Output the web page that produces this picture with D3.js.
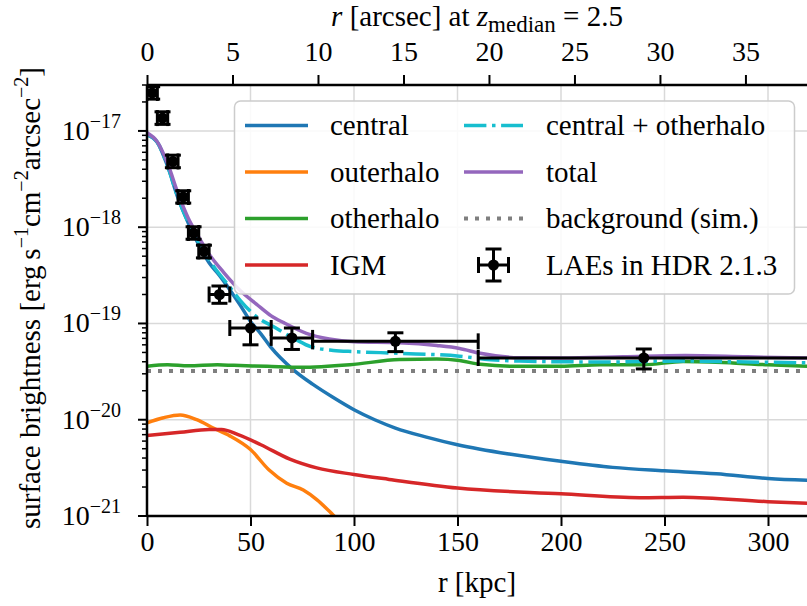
<!DOCTYPE html>
<html>
<head>
<meta charset="utf-8">
<script src="https://cdn.jsdelivr.net/npm/d3@7"></script>
<style>
  body { margin: 0; background: #fff; }
  svg text { font-family: "Liberation Serif", "Times New Roman", serif; fill: #000; }
</style>
</head>
<body>
<svg id="chart" width="807" height="606"></svg>
<script>
// radial surface brightness profiles, r in kpc, SB in erg/s/cm^2/arcsec^2
const centralR  = [0, 5, 10, 15, 20, 25, 30, 35, 40, 45, 50, 55, 60, 70, 80, 90, 100, 110, 120, 135, 150, 175, 200, 225, 250, 275, 300, 320];
const centralSB = [9.12e-18, 7.6e-18, 4.27e-18, 2.0e-18, 1.10e-18, 6.6e-19, 4.27e-19, 3.16e-19, 2.24e-19, 1.55e-19, 1.05e-19, 7.8e-20, 5.6e-20, 3.4e-20, 2.34e-20, 1.7e-20, 1.27e-20, 1.0e-20, 8.2e-21, 6.6e-21, 5.5e-21, 4.4e-21, 3.7e-21, 3.2e-21, 2.95e-21, 2.75e-21, 2.45e-21, 2.34e-21];

const outerR  = [0, 8, 16, 24, 32, 40, 50, 59, 67.5, 75.5, 82, 90, 96];
const outerSB = [9.3e-21, 1.05e-20, 1.12e-20, 1.0e-20, 8.2e-21, 6.8e-21, 4.9e-21, 3.0e-21, 2.19e-21, 1.86e-21, 1.48e-21, 1.02e-21, 7.6e-22];

const otherR  = [0, 10, 20, 34, 42, 58, 74, 98, 122, 140, 151, 161, 180, 200, 219, 240, 259, 283, 300, 320];
const otherSB = [3.59e-20, 3.72e-20, 3.63e-20, 3.72e-20, 3.67e-20, 3.59e-20, 3.5e-20, 3.72e-20, 4.22e-20, 4.27e-20, 4.12e-20, 3.76e-20, 3.59e-20, 3.59e-20, 3.72e-20, 3.72e-20, 4.03e-20, 3.89e-20, 3.72e-20, 3.59e-20];

const igmR  = [0, 16, 30, 36, 44, 55, 69, 82, 100, 117, 150, 200, 238, 259, 300, 320];
const igmSB = [6.84e-21, 7.4e-21, 7.9e-21, 7.9e-21, 7.0e-21, 5.5e-21, 3.9e-21, 3.16e-21, 2.7e-21, 2.4e-21, 1.95e-21, 1.7e-21, 1.55e-21, 1.57e-21, 1.41e-21, 1.35e-21];

const centOtherR  = [0, 5, 10, 15, 20, 27, 33, 38.5, 45, 53, 61, 72, 79, 90, 100, 122, 151, 166, 180, 220, 260, 290, 320];
const centOtherSB = [9.15e-18, 7.62e-18, 4.3e-18, 2.02e-18, 1.12e-18, 5.9e-19, 3.7e-19, 2.63e-19, 1.74e-19, 1.17e-19, 9.3e-20, 6.8e-20, 5.75e-20, 5.25e-20, 5.1e-20, 4.9e-20, 4.57e-20, 4.2e-20, 4.07e-20, 3.98e-20, 4.07e-20, 3.98e-20, 3.9e-20];

const totalR  = [0, 5, 10, 15, 20, 25, 30, 37, 45, 53, 60, 66, 77, 88, 100, 122, 140, 151, 161, 180, 200, 230, 260, 290, 320];
const totalSB = [9.55e-18, 7.7e-18, 4.57e-18, 2.24e-18, 1.23e-18, 7.9e-19, 5.25e-19, 3.4e-19, 2.2e-19, 1.58e-19, 1.2e-19, 1.02e-19, 7.9e-20, 6.9e-20, 6.45e-20, 6.3e-20, 5.9e-20, 5.5e-20, 4.9e-20, 4.4e-20, 4.37e-20, 4.5e-20, 4.65e-20, 4.5e-20, 4.37e-20];

const bgR  = [0, 320];
const bgSB = [3.2e-20, 3.2e-20];

// stacked LAE measurements (HDR 2.1.3)
const laeR    = [2.5, 7.5, 12.5, 17.5, 22.5, 27.5, 35, 50, 70, 120, 240];
const laeRlo  = [0, 5, 10, 15, 20, 25, 30, 40, 60, 80, 160];
const laeRhi  = [5, 10, 15, 20, 25, 30, 40, 60, 80, 160, 320];
const laeSB   = [2.48e-17, 1.36e-17, 4.82e-18, 2.06e-18, 8.7e-19, 5.6e-19, 2.0e-19, 8.97e-20, 7.08e-20, 6.52e-20, 4.38e-20];
const laeSBlo = [2.14e-17, 1.17e-17, 4.15e-18, 1.78e-18, 7.5e-19, 4.8e-19, 1.62e-19, 6.0e-20, 5.37e-20, 5.1e-20, 3.37e-20];
const laeSBhi = [2.88e-17, 1.58e-17, 5.6e-18, 2.39e-18, 1.01e-18, 6.5e-19, 2.45e-19, 1.14e-19, 8.97e-20, 8.0e-20, 5.43e-20];

const xTicks = [0, 50, 100, 150, 200, 250, 300];
const arcTicks = [0, 5, 10, 15, 20, 25, 30, 35];
const yExps = [-21, -20, -19, -18, -17];
const kpcPerArcsec = 8.26; // at z_median = 2.5

const legendLabels = ['central', 'outerhalo', 'otherhalo', 'IGM', 'central + otherhalo', 'total', 'background (sim.)', 'LAEs in HDR 2.1.3'];

const svg = d3.select('#chart');
const pLeft = 147, pTop = 85, pBottom = 516, pRight = 807;
const xMax = 320;
const serif = '"Liberation Serif", "Times New Roman", serif';

const x = d3.scaleLinear().domain([0, xMax]).range([pLeft, pLeft + xMax * 2.07]);
const xArc = d3.scaleLinear().domain([0, xMax / kpcPerArcsec]).range(x.range());
const y = d3.scaleLog().domain([1e-21, 3e-17]).range([pBottom, pTop]);

svg.append('defs').append('clipPath').attr('id', 'clip')
  .append('rect').attr('x', pLeft).attr('y', pTop).attr('width', pRight - pLeft + 5).attr('height', pBottom - pTop);

// grid
const grid = svg.append('g').attr('stroke', '#d9d9d9').attr('stroke-width', 1.5);
xTicks.forEach(t => grid.append('line').attr('x1', x(t)).attr('x2', x(t)).attr('y1', pTop).attr('y2', pBottom));
yExps.forEach(e => grid.append('line').attr('x1', pLeft).attr('x2', pRight).attr('y1', y(Math.pow(10, e))).attr('y2', y(Math.pow(10, e))));

const line = d3.line().x(d => x(d[0])).y(d => y(d[1])).curve(d3.curveMonotoneX);
const series = [
  { r: centralR, v: centralSB, color: '#1f77b4' },
  { r: outerR, v: outerSB, color: '#ff7f0e' },
  { r: otherR, v: otherSB, color: '#2ca02c' },
  { r: igmR, v: igmSB, color: '#d62728' },
  { r: centOtherR, v: centOtherSB, color: '#17becf', dash: '22.4,5.6,3.5,5.6' },
  { r: totalR, v: totalSB, color: '#9467bd' },
  { r: bgR, v: bgSB, color: '#7f7f7f', dash: '4,7', w: 4 }
];
const plot = svg.append('g').attr('clip-path', 'url(#clip)');
series.forEach(s => {
  plot.append('path')
    .datum(d3.zip(s.r, s.v))
    .attr('d', line)
    .attr('fill', 'none')
    .attr('stroke', s.color)
    .attr('stroke-width', s.w || 3.5)
    .attr('stroke-dasharray', s.dash || null);
});

// error bars
const cap = 8;
const eb = plot.append('g').attr('stroke', '#000').attr('stroke-width', 3);
laeR.forEach((r, i) => {
  const cx = x(r), cy = y(laeSB[i]);
  const x0 = x(laeRlo[i]), x1 = x(laeRhi[i]);
  const y0 = y(laeSBlo[i]), y1 = y(laeSBhi[i]);
  eb.append('line').attr('x1', x0).attr('x2', x1).attr('y1', cy).attr('y2', cy);
  eb.append('line').attr('x1', cx).attr('x2', cx).attr('y1', y0).attr('y2', y1);
  [x0, x1].forEach(xx => eb.append('line').attr('x1', xx).attr('x2', xx).attr('y1', cy - cap).attr('y2', cy + cap));
  [y0, y1].forEach(yy => eb.append('line').attr('x1', cx - cap).attr('x2', cx + cap).attr('y1', yy).attr('y2', yy));
  plot.append('circle').attr('cx', cx).attr('cy', cy).attr('r', 5.5).attr('fill', '#000');
});

// axes
const fs = 29, tfs = 28;
const axB = svg.append('g').attr('transform', `translate(0,${pBottom})`)
  .call(d3.axisBottom(x).tickValues(xTicks).tickSize(10).tickPadding(5));
const axT = svg.append('g').attr('transform', `translate(0,${pTop})`)
  .call(d3.axisTop(xArc).tickValues(arcTicks).tickSize(10).tickPadding(14));
[axB, axT].forEach(a => {
  a.attr('font-family', serif);
  a.select('.domain').remove();
  a.selectAll('line').attr('stroke', '#000').attr('stroke-width', 2);
  a.selectAll('text').attr('font-size', tfs).style('font-family', serif);
});
svg.append('line').attr('x1', pLeft).attr('x2', pRight).attr('y1', pBottom).attr('y2', pBottom).attr('stroke', '#000').attr('stroke-width', 2.5);
svg.append('line').attr('x1', pLeft).attr('x2', pRight).attr('y1', pTop).attr('y2', pTop).attr('stroke', '#000').attr('stroke-width', 2.5);

// y axis: major and minor ticks
const minor = [];
for (let e = -21; e <= -17; e++) for (let m = 2; m <= 9; m++) {
  const v = m * Math.pow(10, e);
  if (v <= 3e-17) minor.push(v);
}
const axL = svg.append('g');
axL.append('line').attr('x1', pLeft).attr('x2', pLeft).attr('y1', pTop).attr('y2', pBottom).attr('stroke', '#000').attr('stroke-width', 2.5);
minor.forEach(v => axL.append('line').attr('x1', pLeft - 5).attr('x2', pLeft).attr('y1', y(v)).attr('y2', y(v)).attr('stroke', '#000').attr('stroke-width', 1.5));
yExps.forEach(e => {
  const yy = y(Math.pow(10, e));
  axL.append('line').attr('x1', pLeft - 9).attr('x2', pLeft).attr('y1', yy).attr('y2', yy).attr('stroke', '#000').attr('stroke-width', 2);
  const t = axL.append('text').attr('x', 121).attr('y', yy + 9).attr('text-anchor', 'end').attr('font-size', tfs);
  t.append('tspan').text('10');
  t.append('tspan').attr('dy', -12).attr('font-size', 20).text('\u2212' + (-e));
});

// axis titles
svg.append('text').attr('x', 477).attr('y', 592).attr('text-anchor', 'middle').attr('font-size', fs).text('r [kpc]');
const tt = svg.append('text').attr('x', 477).attr('y', 26).attr('text-anchor', 'middle').attr('font-size', fs);
tt.append('tspan').attr('font-style', 'italic').text('r');
tt.append('tspan').text(' [arcsec] at ');
tt.append('tspan').attr('font-style', 'italic').text('z');
tt.append('tspan').attr('dy', 6).attr('font-size', 23).text('median');
tt.append('tspan').attr('dy', -6).text(' = 2.5');

const yl = svg.append('text').attr('transform', 'translate(40,298) rotate(-90)').attr('text-anchor', 'middle').attr('font-size', fs);
yl.append('tspan').text('surface brightness [erg\u2009s');
yl.append('tspan').attr('dy', -12).attr('font-size', 20).text('\u22121');
yl.append('tspan').attr('dy', 12).text('cm');
yl.append('tspan').attr('dy', -12).attr('font-size', 20).text('\u22122');
yl.append('tspan').attr('dy', 12).text('arcsec');
yl.append('tspan').attr('dy', -12).attr('font-size', 20).text('\u22122');
yl.append('tspan').attr('dy', 12).text(']');

// legend
const lg = svg.append('g');
lg.append('rect').attr('x', 234.5).attr('y', 101).attr('width', 560).attr('height', 193).attr('rx', 6)
  .attr('fill', '#fff').attr('fill-opacity', 0.85).attr('stroke', '#cccccc').attr('stroke-width', 1.5);
const rowY = i => 125.5 + i * 46.5;
legendLabels.forEach((lab, i) => {
  const col = i < 4 ? 0 : 1;
  const row = i % 4;
  const hx0 = col ? 464 : 245, hx1 = col ? 523 : 308, tx = col ? 546 : 330;
  const yy = rowY(row);
  if (i < 7) {
    const s = series[i];
    lg.append('line').attr('x1', hx0).attr('x2', hx1).attr('y1', yy).attr('y2', yy)
      .attr('stroke', s.color).attr('stroke-width', s.w || 3.5).attr('stroke-dasharray', s.dash || null);
  } else {
    const cx = (hx0 + hx1) / 2;
    const g = lg.append('g').attr('stroke', '#000').attr('stroke-width', 3);
    g.append('line').attr('x1', cx - 15).attr('x2', cx + 15).attr('y1', yy).attr('y2', yy);
    g.append('line').attr('x1', cx).attr('x2', cx).attr('y1', yy - 16).attr('y2', yy + 16);
    [cx - 15, cx + 15].forEach(xx => g.append('line').attr('x1', xx).attr('x2', xx).attr('y1', yy - cap).attr('y2', yy + cap));
    [yy - 16, yy + 16].forEach(v => g.append('line').attr('x1', cx - cap).attr('x2', cx + cap).attr('y1', v).attr('y2', v));
    lg.append('circle').attr('cx', cx).attr('cy', yy).attr('r', 5.5).attr('fill', '#000');
  }
  lg.append('text').attr('x', tx).attr('y', yy + 9.5).attr('font-size', fs).text(lab);
});
</script>
</body>
</html>
